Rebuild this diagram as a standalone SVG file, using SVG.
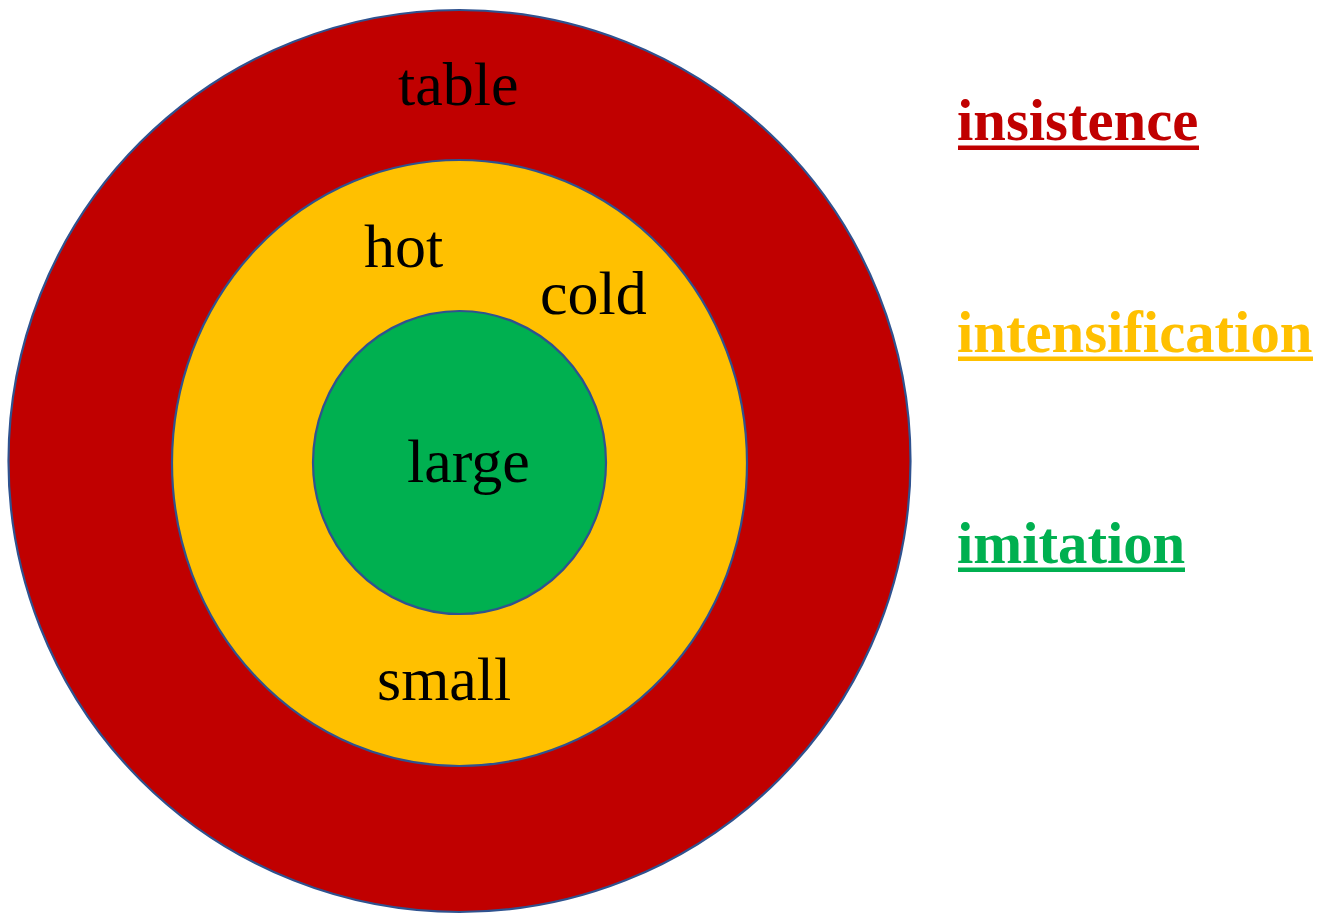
<svg xmlns="http://www.w3.org/2000/svg" width="1329" height="914" viewBox="0 0 1329 914">
  <style>
    .ring { stroke: #2F528F; stroke-width: 2.2; }
    .word { font-family: "Liberation Serif", "Times New Roman", serif; font-size: 62px; fill: #000000; }
    .key { font-family: "Liberation Serif", "Times New Roman", serif; font-size: 58.7px; font-weight: bold; }
  </style>
  <rect width="1329" height="914" fill="#FFFFFF"/>

  <!-- concentric rings -->
  <g id="ring-insistence">
    <ellipse class="ring" cx="459.5" cy="461" rx="451" ry="451" fill="#C00000"/>
    <text class="word" x="398" y="105">table</text>
  </g>
  <g id="ring-intensification">
    <ellipse class="ring" cx="459.5" cy="463" rx="287.5" ry="303" fill="#FFC000"/>
    <text class="word" x="364" y="267">hot</text>
    <text class="word" x="540" y="314">cold</text>
    <text class="word" x="377" y="700">small</text>
  </g>
  <g id="ring-imitation">
    <ellipse class="ring" cx="459.5" cy="462.5" rx="146.5" ry="151.5" fill="#00B050"/>
    <text class="word" x="407" y="482">large</text>
  </g>

  <!-- legend -->
  <g id="legend-insistence" fill="#C00000">
    <text class="key" x="957" y="140">insistence</text>
    <rect x="958" y="145.5" width="241" height="4.5"/>
  </g>
  <g id="legend-intensification" fill="#FFC000">
    <text class="key" x="957" y="352">intensification</text>
    <rect x="958" y="356.5" width="355" height="4.5"/>
  </g>
  <g id="legend-imitation" fill="#00B050">
    <text class="key" x="957" y="563">imitation</text>
    <rect x="958" y="567.5" width="227" height="4.5"/>
  </g>

  <g id="connectors"/>
</svg>
